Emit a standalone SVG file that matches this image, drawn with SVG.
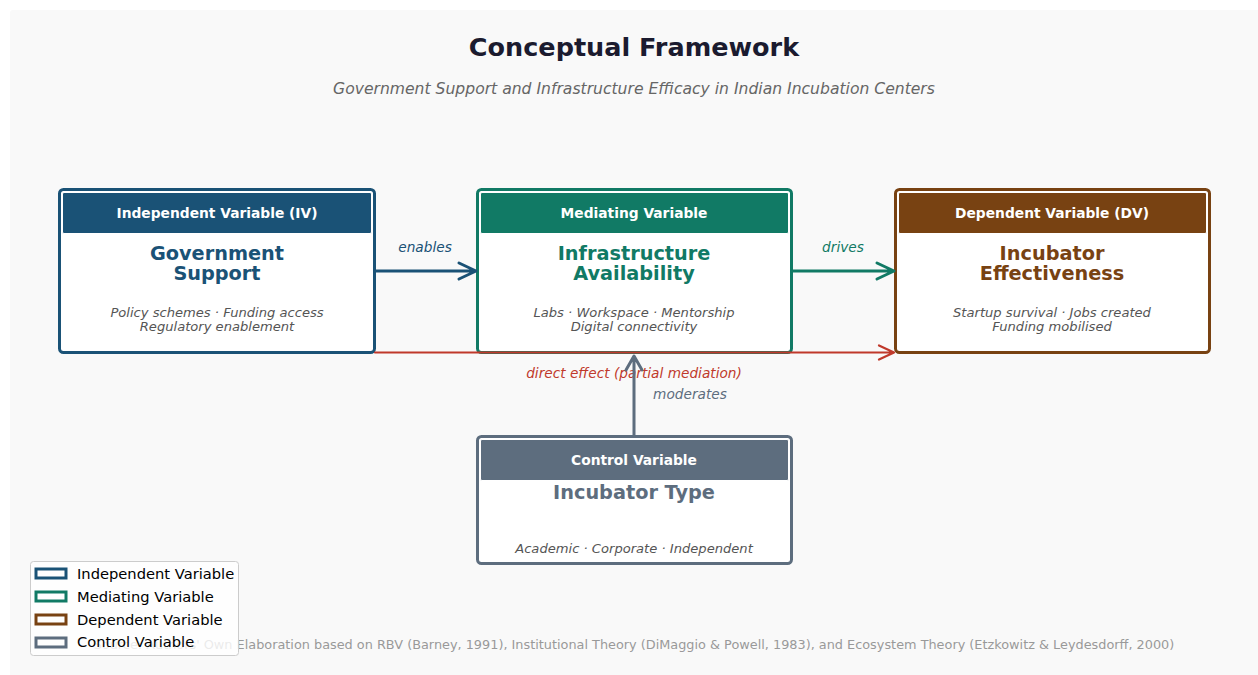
<svg xmlns="http://www.w3.org/2000/svg" width="1258" height="675" viewBox="0 0 1258 675">
  <style>
    text { font-family: "DejaVu Sans", "Liberation Sans", sans-serif; text-anchor: middle; }
    .title { font-size: 25.5px; font-weight: bold; fill: #1b1b2f; }
    .subtitle { font-size: 15.6px; font-style: italic; fill: #666666; }
    .box { fill: #ffffff; stroke-width: 3; }
    .hdr { stroke: #ffffff; stroke-width: 1; }
    .hdr-text { font-size: 13.8px; font-weight: bold; fill: #ffffff; }
    .name { font-size: 19.3px; font-weight: bold; }
    .desc { font-size: 13.1px; font-style: italic; fill: #555555; }
    .lbl { font-size: 13.7px; font-style: italic; }
    .footer { font-size: 12.85px; fill: #999999; }
    .legend-text { font-size: 14.7px; fill: #000000; text-anchor: start; }
    .iv { stroke: #1a5276; } .iv-f { fill: #1a5276; }
    .mv { stroke: #117a65; } .mv-f { fill: #117a65; }
    .dv { stroke: #784212; } .dv-f { fill: #784212; }
    .cv { stroke: #5d6d7e; } .cv-f { fill: #5d6d7e; }
    .conn { fill: none; stroke-linecap: round; stroke-linejoin: round; }
  </style>

  <!-- page background -->
  <rect x="0" y="0" width="1258" height="675" fill="#ffffff"/>
  <rect x="10" y="10" width="1258" height="675" rx="3" fill="#f9f9f9"/>

  <text class="title" x="634" y="56">Conceptual Framework</text>
  <text class="subtitle" x="634" y="94">Government Support and Infrastructure Efficacy in Indian Incubation Centers</text>

  <!-- independent variable -->
  <g id="node-iv">
    <rect class="box iv" x="59.5" y="189.5" width="315" height="163" rx="4"/>
    <rect class="hdr iv-f" x="62.5" y="192.5" width="309" height="41" rx="1.5"/>
    <text class="hdr-text" x="217" y="218">Independent Variable (IV)</text>
    <text class="name iv-f"><tspan x="217" y="260">Government</tspan><tspan x="217" y="280">Support</tspan></text>
    <text class="desc"><tspan x="217" y="316.5">Policy schemes · Funding access</tspan><tspan x="217" y="330.5">Regulatory enablement</tspan></text>
  </g>

  <!-- mediating variable -->
  <g id="node-mv">
    <rect class="box mv" x="477.5" y="189.5" width="314" height="163" rx="4"/>
    <rect class="hdr mv-f" x="480.5" y="192.5" width="308" height="41" rx="1.5"/>
    <text class="hdr-text" x="634" y="218">Mediating Variable</text>
    <text class="name mv-f"><tspan x="634" y="260">Infrastructure</tspan><tspan x="634" y="280">Availability</tspan></text>
    <text class="desc"><tspan x="634" y="316.5">Labs · Workspace · Mentorship</tspan><tspan x="634" y="330.5">Digital connectivity</tspan></text>
  </g>

  <!-- dependent variable -->
  <g id="node-dv">
    <rect class="box dv" x="895.5" y="189.5" width="314" height="163" rx="4"/>
    <rect class="hdr dv-f" x="898.5" y="192.5" width="308" height="41" rx="1.5"/>
    <text class="hdr-text" x="1052" y="218">Dependent Variable (DV)</text>
    <text class="name dv-f"><tspan x="1052" y="260">Incubator</tspan><tspan x="1052" y="280">Effectiveness</tspan></text>
    <text class="desc"><tspan x="1052" y="316.5">Startup survival · Jobs created</tspan><tspan x="1052" y="330.5">Funding mobilised</tspan></text>
  </g>

  <!-- control variable -->
  <g id="node-cv">
    <rect class="box cv" x="477.5" y="436.5" width="314" height="127" rx="4"/>
    <rect class="hdr cv-f" x="480.5" y="439.5" width="308" height="41" rx="1.5"/>
    <text class="hdr-text" x="634" y="465">Control Variable</text>
    <text class="name cv-f" x="634" y="499">Incubator Type</text>
    <text class="desc" x="634" y="552.5">Academic · Corporate · Independent</text>
  </g>

  <!-- connectors -->
  <g id="connectors">
    <g id="edge-enables">
      <path class="conn iv" stroke-width="3" d="M375 271 H475 M459 263 L476 271 L459 279"/>
      <text class="lbl iv-f" x="425" y="252">enables</text>
    </g>
    <g id="edge-drives">
      <path class="conn mv" stroke-width="3" d="M792 271 H893 M877 263 L894 271 L877 279"/>
      <text class="lbl mv-f" x="843" y="252">drives</text>
    </g>
    <g id="edge-direct">
      <path class="conn" stroke="#c0392b" stroke-width="2.2" d="M375 352.5 H893 M879 345.5 L894 352.5 L879 359.5"/>
      <text class="lbl" fill="#c0392b" x="634" y="378">direct effect (partial mediation)</text>
    </g>
    <g id="edge-moderates">
      <path class="conn cv" stroke-width="3" d="M634 435 V357 M626 370 L634 356 L642 370"/>
      <text class="lbl cv-f" x="690" y="399">moderates</text>
    </g>
  </g>

  <text class="footer" x="634" y="648.5">Source: Authors' Own Elaboration based on RBV (Barney, 1991), Institutional Theory (DiMaggio &amp; Powell, 1983), and Ecosystem Theory (Etzkowitz &amp; Leydesdorff, 2000)</text>

  <!-- legend -->
  <g id="legend">
    <rect x="30.5" y="561.5" width="208" height="94" rx="3" fill="#ffffff" fill-opacity="0.8" stroke="#cccccc" stroke-width="1"/>
    <rect x="36" y="569" width="30" height="9" fill="none" stroke="#1a5276" stroke-width="3"/>
    <rect x="36" y="592" width="30" height="9" fill="none" stroke="#117a65" stroke-width="3"/>
    <rect x="36" y="615" width="30" height="9" fill="none" stroke="#784212" stroke-width="3"/>
    <rect x="36" y="638" width="30" height="9" fill="none" stroke="#5d6d7e" stroke-width="3"/>
    <text class="legend-text" x="77" y="579">Independent Variable</text>
    <text class="legend-text" x="77" y="602">Mediating Variable</text>
    <text class="legend-text" x="77" y="625">Dependent Variable</text>
    <text class="legend-text" x="77" y="647">Control Variable</text>
  </g>
</svg>
